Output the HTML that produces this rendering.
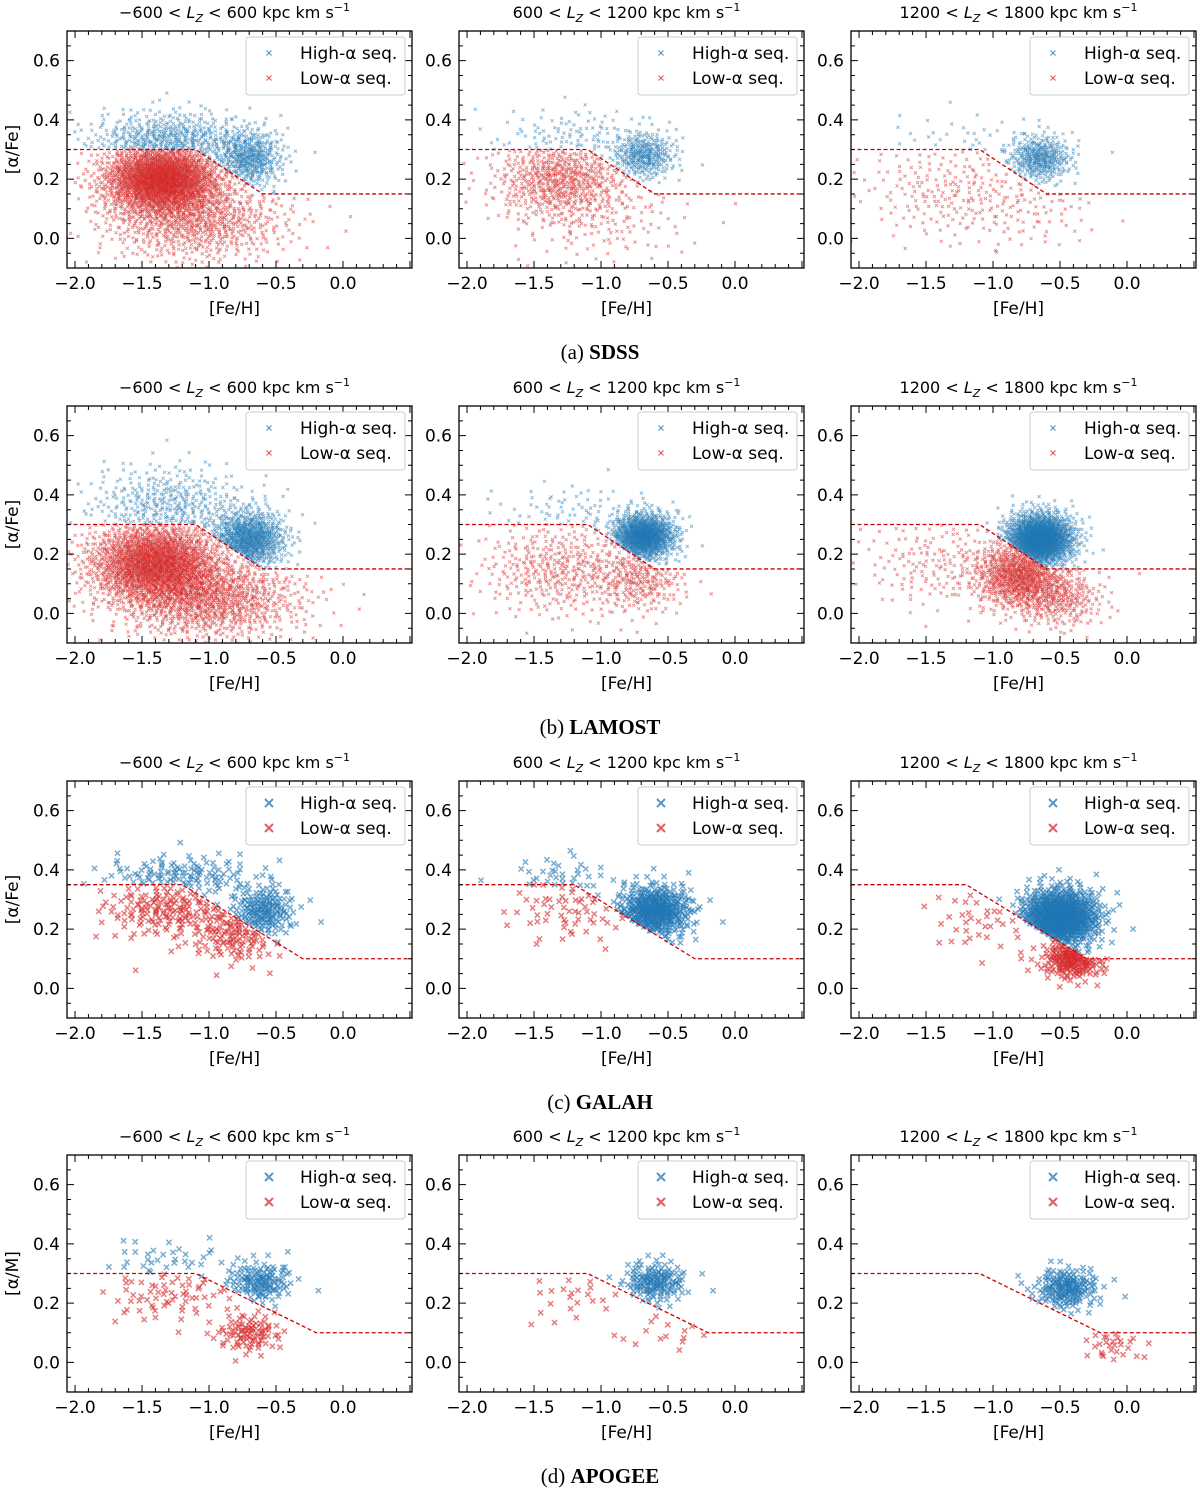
<!DOCTYPE html>
<html><head><meta charset="utf-8"><style>
body{margin:0;background:#fff}
svg text{font-family:"DejaVu Sans","Liberation Sans",sans-serif}
</style></head><body>
<svg id="fig" width="1200" height="1491" viewBox="0 0 1200 1491" xmlns="http://www.w3.org/2000/svg"></svg>
<script>
// ---- data ----
const surveys = ["SDSS","LAMOST","GALAH","APOGEE"];
const captions = ["(a)","(b)","(c)","(d)"];
const yLabels = ["[α/Fe]","[α/Fe]","[α/Fe]","[α/M]"];
const lzBins = [["−600","600"],["600","1200"],["1200","1800"]];
const xTicks = [-2.0,-1.5,-1.0,-0.5,0.0];
const xTickLabels = ["−2.0","−1.5","−1.0","−0.5","0.0"];
const yTicks = [0.0,0.2,0.4,0.6];
const yTickLabels = ["0.0","0.2","0.4","0.6"];
// dividing line per survey: [plateau alpha, knee feh, end feh, floor alpha]
const divLines = [[0.30,-1.1,-0.6,0.15],[0.30,-1.1,-0.6,0.15],[0.35,-1.2,-0.3,0.10],[0.30,-1.1,-0.2,0.10]];
// clusters: [feh center, alpha center, feh sigma, alpha sigma, count]
const highSDSS = [[[-1.3,0.33,0.3,0.05,600],[-0.7,0.27,0.13,0.05,450]],[[-1.2,0.34,0.3,0.05,130],[-0.68,0.28,0.12,0.04,330]],[[-0.65,0.27,0.12,0.04,380],[-1.2,0.33,0.3,0.05,45]]];
const lowSDSS = [[[-1.35,0.2,0.22,0.06,2300],[-1.1,0.06,0.35,0.07,800]],[[-1.3,0.2,0.25,0.07,650],[-1.0,0.07,0.35,0.08,150]],[[-1.3,0.16,0.35,0.09,230],[-0.7,0.1,0.25,0.07,70]]];
const highLAMOST = [[[-1.3,0.36,0.3,0.07,450],[-0.7,0.25,0.14,0.05,850]],[[-0.68,0.26,0.12,0.04,1100],[-1.2,0.34,0.3,0.05,90]],[[-0.65,0.25,0.13,0.045,1700]]];
const lowLAMOST = [[[-1.4,0.17,0.25,0.07,2100],[-1.0,0.05,0.35,0.07,1100]],[[-1.3,0.15,0.3,0.08,420],[-0.7,0.12,0.17,0.06,280]],[[-0.8,0.13,0.17,0.06,850],[-1.4,0.17,0.3,0.08,180],[-0.5,0.05,0.17,0.05,280]]];
const highGALAH = [[[-1.2,0.38,0.3,0.035,140],[-0.6,0.26,0.12,0.045,190]],[[-0.6,0.26,0.14,0.045,480],[-1.3,0.38,0.2,0.035,40]],[[-0.5,0.24,0.15,0.05,850]]];
const lowGALAH = [[[-1.3,0.27,0.25,0.05,190],[-0.8,0.18,0.17,0.05,140]],[[-1.2,0.27,0.25,0.06,75]],[[-0.4,0.1,0.12,0.035,230],[-1.1,0.24,0.2,0.07,45]]];
const highAPOGEE = [[[-0.62,0.27,0.12,0.035,140],[-1.3,0.34,0.3,0.04,45]],[[-0.6,0.27,0.12,0.035,160]],[[-0.45,0.25,0.12,0.035,190]]];
const lowAPOGEE = [[[-1.3,0.23,0.25,0.05,75],[-0.7,0.1,0.12,0.035,95]],[[-1.2,0.22,0.2,0.05,25],[-0.5,0.1,0.15,0.04,15]],[[-0.1,0.06,0.12,0.03,30]]];
const highAll=[highSDSS,highLAMOST,highGALAH,highAPOGEE];
const lowAll=[lowSDSS,lowLAMOST,lowGALAH,lowAPOGEE];

// ---- layout ----
const NS="http://www.w3.org/2000/svg";
const svg=document.getElementById('fig');
const colX=[67,459,851], rowY=[31,406,781,1155], PW=345, PH=237;
const XMIN=-2.06,XMAX=0.515,YMIN=-0.1,YMAX=0.7;
const BLUE="#1f77b4", RED="#d62728";
function el(tag,attrs,parent){const e=document.createElementNS(NS,tag);for(const k in attrs)e.setAttribute(k,attrs[k]);(parent||svg).appendChild(e);return e;}
function halton(i,b){let f=1,r=0;while(i>0){f/=b;r+=f*(i%b);i=Math.floor(i/b);}return r;}
function lineY(d,x){if(x<=d[1])return d[0];if(x>=d[2])return d[3];return d[0]+(d[3]-d[0])*(x-d[1])/(d[2]-d[1]);}

for(let r=0;r<4;r++){
  const dl=divLines[r], big=r>=2, ms=big?2.6:1.5, sw=big?1.5:1.0, op=big?0.6:0.5;
  for(let c=0;c<3;c++){
    const X0=colX[c],Y0=rowY[r];
    const sx=v=>X0+(v-XMIN)/(XMAX-XMIN)*PW;
    const sy=v=>Y0+PH-(v-YMIN)/(YMAX-YMIN)*PH;
    const g=el('g',{});
    
    
    const cp=el('clipPath',{id:'cp'+r+c},g);el('rect',{x:X0,y:Y0,width:PW,height:PH},cp);
    [[highAll[r][c],BLUE,'high'],[lowAll[r][c],RED,'low']].forEach(([cls,col,kind],si)=>{
      const sg=el('g',{stroke:col,'stroke-width':sw,'stroke-opacity':op,fill:'none','clip-path':`url(#cp${r}${c})`},g);
      
      
      let k=1+si*7919+r*131+c*53;
      cls.forEach(cl=>{
        for(let i=0;i<cl[4];i++){
          k++;
          const u1=Math.max(halton(k,2),1e-4), u2=halton(k,3);
          const rr=Math.sqrt(-2*Math.log(u1));
          const fx=cl[0]+rr*Math.cos(2*Math.PI*u2)*cl[2], fy=cl[1]+rr*Math.sin(2*Math.PI*u2)*cl[3];
          const ly=lineY(dl,fx);
          if(kind==='high'&&fy<ly)continue;
          if(kind==='low'&&fy>ly)continue;
          const px=sx(fx),py=sy(fy);
          const p=el('path',{d:`M${(px-ms).toFixed(1)} ${(py-ms).toFixed(1)}l${2*ms} ${2*ms}M${(px-ms).toFixed(1)} ${(py+ms).toFixed(1)}l${2*ms} ${-2*ms}`},sg);
        }
      });
    });
    const dp=el('path',{d:`M${X0} ${sy(dl[0])}L${sx(dl[1])} ${sy(dl[0])}L${sx(dl[2])} ${sy(dl[3])}L${X0+PW} ${sy(dl[3])}`,stroke:'#cc0000','stroke-width':1.3,'stroke-dasharray':'4,2.5',fill:'none'},g);
    
    
    el('rect',{x:X0,y:Y0,width:PW,height:PH,fill:'none',stroke:'#000','stroke-width':1.3},g);
    let td="";
    for(let v=-2.0;v<=0.5001;v+=0.1){const x=sx(v);const maj=Math.abs(v*2-Math.round(v*2))<1e-6;const L=maj?7:4;td+=`M${x} ${Y0+PH}v${-L}M${x} ${Y0}v${L}`;}
    for(let v=-0.1;v<=0.7001;v+=0.05){const y=sy(v);const maj=Math.abs(v*5-Math.round(v*5))<1e-6;const L=maj?7:4;td+=`M${X0} ${y}h${L}M${X0+PW} ${y}h${-L}`;}
    el('path',{d:td,stroke:'#000','stroke-width':1},g);
    xTicks.forEach((v,i)=>{const t=el('text',{x:sx(v),y:Y0+PH+21,'text-anchor':'middle','font-size':17},g);t.textContent=xTickLabels[i];});
    yTicks.forEach((v,i)=>{const t=el('text',{x:X0-7,y:sy(v)+6,'text-anchor':'end','font-size':17},g);t.textContent=yTickLabels[i];});
    const xl=el('text',{x:X0+PW/2-5,y:Y0+PH+46,'text-anchor':'middle','font-size':17},g);xl.textContent="[Fe/H]";
    
    if(c===0){const yl=el('text',{x:18,y:Y0+PH/2,'text-anchor':'middle','font-size':17,transform:`rotate(-90 18 ${Y0+PH/2})`},g);yl.textContent=yLabels[r];
      }
    const tt=el('text',{x:X0+PW/2-5,y:Y0-13,'text-anchor':'middle','font-size':16},g);
    
    tt.innerHTML=`${lzBins[c][0]} &lt; <tspan font-style="italic">L</tspan><tspan font-size="11" dy="4" font-style="italic">Z</tspan><tspan dy="-4"> &lt; ${lzBins[c][1]} kpc km s</tspan><tspan font-size="11" dy="-7">−1</tspan>`;
    const lg=el('g',{},g);
    
    el('rect',{x:X0+179,y:Y0+6,width:159,height:58,rx:3,fill:'#fff','fill-opacity':0.85,stroke:'#ccc'},lg);
    [["High-α seq.",BLUE,22],["Low-α seq.",RED,47]].forEach(([lab,col,dy])=>{
      const cx=X0+202,cy=Y0+dy,m=big?4:2.5;
      el('path',{d:`M${cx-m} ${cy-m}l${2*m} ${2*m}M${cx-m} ${cy+m}l${2*m} ${-2*m}`,stroke:col,'stroke-width':big?2:1.2,'stroke-opacity':0.75},lg);
      const t=el('text',{x:X0+233,y:cy+6,'font-size':17},lg);t.textContent=lab;
    });
  }
  const cap=el('text',{x:600,y:rowY[r]+PH+91,'text-anchor':'middle','font-size':21,style:'font-family:"Liberation Serif",serif'});
  
  
  cap.innerHTML=`${captions[r]} <tspan font-weight="bold">${surveys[r]}</tspan>`;
}
</script>
</body></html>
